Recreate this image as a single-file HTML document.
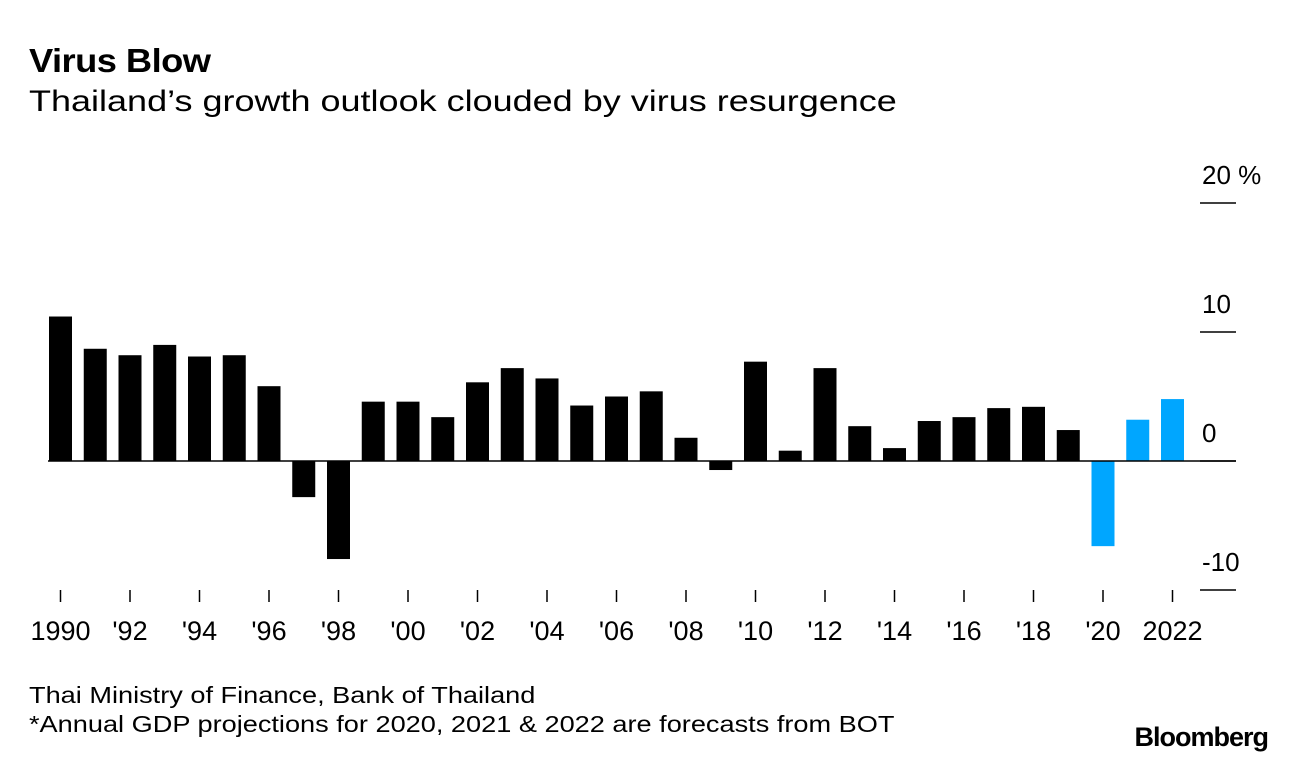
<!DOCTYPE html>
<html><head><meta charset="utf-8"><style>
body{margin:0;background:#fff;width:1296px;height:766px;overflow:hidden;font-family:"Liberation Sans",sans-serif;}
.t{position:absolute;left:29px;top:42px;font-size:33px;font-weight:bold;letter-spacing:-0.5px;transform:scaleX(1.1);transform-origin:left;white-space:nowrap}
.s{position:absolute;left:29px;top:85px;font-size:30px;transform:scaleX(1.2);transform-origin:left;white-space:nowrap}
.f{position:absolute;left:29px;font-size:23px;transform:scaleX(1.18);transform-origin:left;white-space:nowrap}
.b{position:absolute;right:28px;top:722px;font-size:27px;font-weight:bold;letter-spacing:-1px}
</style></head><body>
<div class="t">Virus Blow</div>
<div class="s">Thailand’s growth outlook clouded by virus resurgence</div>
<svg id="c" width="1296" height="766" style="position:absolute;left:0;top:0"></svg>
<div class="f" style="top:682px">Thai Ministry of Finance, Bank of Thailand</div>
<div class="f" style="top:711px">*Annual GDP projections for 2020, 2021 &amp; 2022 are forecasts from BOT</div>
<div class="b">Bloomberg</div>
<script>
const years=[1990,1991,1992,1993,1994,1995,1996,1997,1998,1999,2000,2001,2002,2003,2004,2005,2006,2007,2008,2009,2010,2011,2012,2013,2014,2015,2016,2017,2018,2019,2020,2021,2022];
const growth=[11.2,8.7,8.2,9.0,8.1,8.2,5.8,-2.8,-7.6,4.6,4.6,3.4,6.1,7.2,6.4,4.3,5.0,5.4,1.8,-0.7,7.7,0.8,7.2,2.7,1.0,3.1,3.4,4.1,4.2,2.4,-6.6,3.2,4.8];
const forecast=[2020,2021,2022];
const yTicks=[20,10,0,-10];
const yTickLabels=["20 %","10","0","-10"];
const xLabels=["1990","'92","'94","'96","'98","'00","'02","'04","'06","'08","'10","'12","'14","'16","'18","'20","2022"];
const xLabelYears=[1990,1992,1994,1996,1998,2000,2002,2004,2006,2008,2010,2012,2014,2016,2018,2020,2022];
const svg=document.getElementById('c');const NS='http://www.w3.org/2000/svg';
const X=y=>60.5+(y-1990)*34.75;
const Y=v=>461-v*12.9;
function mk(t,a){const e=document.createElementNS(NS,t);for(const k in a)e.setAttribute(k,a[k]);svg.appendChild(e);return e;}
years.forEach((yr,i)=>{const v=growth[i];
const r=mk('rect',{x:X(yr)-11.5,y:Math.min(Y(v),Y(0)),width:23,height:Math.abs(Y(v)-Y(0)),fill:forecast.includes(yr)?'#00a6ff':'#000'});

});
const z=mk('line',{x1:48,x2:1236,y1:Y(0),y2:Y(0),stroke:'#000','stroke-width':1.5});


yTicks.forEach((v,i)=>{const l=mk('line',{x1:1200,x2:1236,y1:Y(v),y2:Y(v),stroke:'#000','stroke-width':1.5});


const t=mk('text',{x:1202,y:Y(v)-19,'font-size':26,fill:'#000','font-family':'Liberation Sans'});t.textContent=yTickLabels[i];

});
xLabelYears.forEach((yr,i)=>{const l=mk('line',{x1:X(yr),x2:X(yr),y1:590,y2:602,stroke:'#000','stroke-width':1.5});


const t=mk('text',{x:X(yr),y:640,'font-size':27,'text-anchor':'middle',fill:'#000','font-family':'Liberation Sans'});t.textContent=xLabels[i];

});
</script>
</body></html>
